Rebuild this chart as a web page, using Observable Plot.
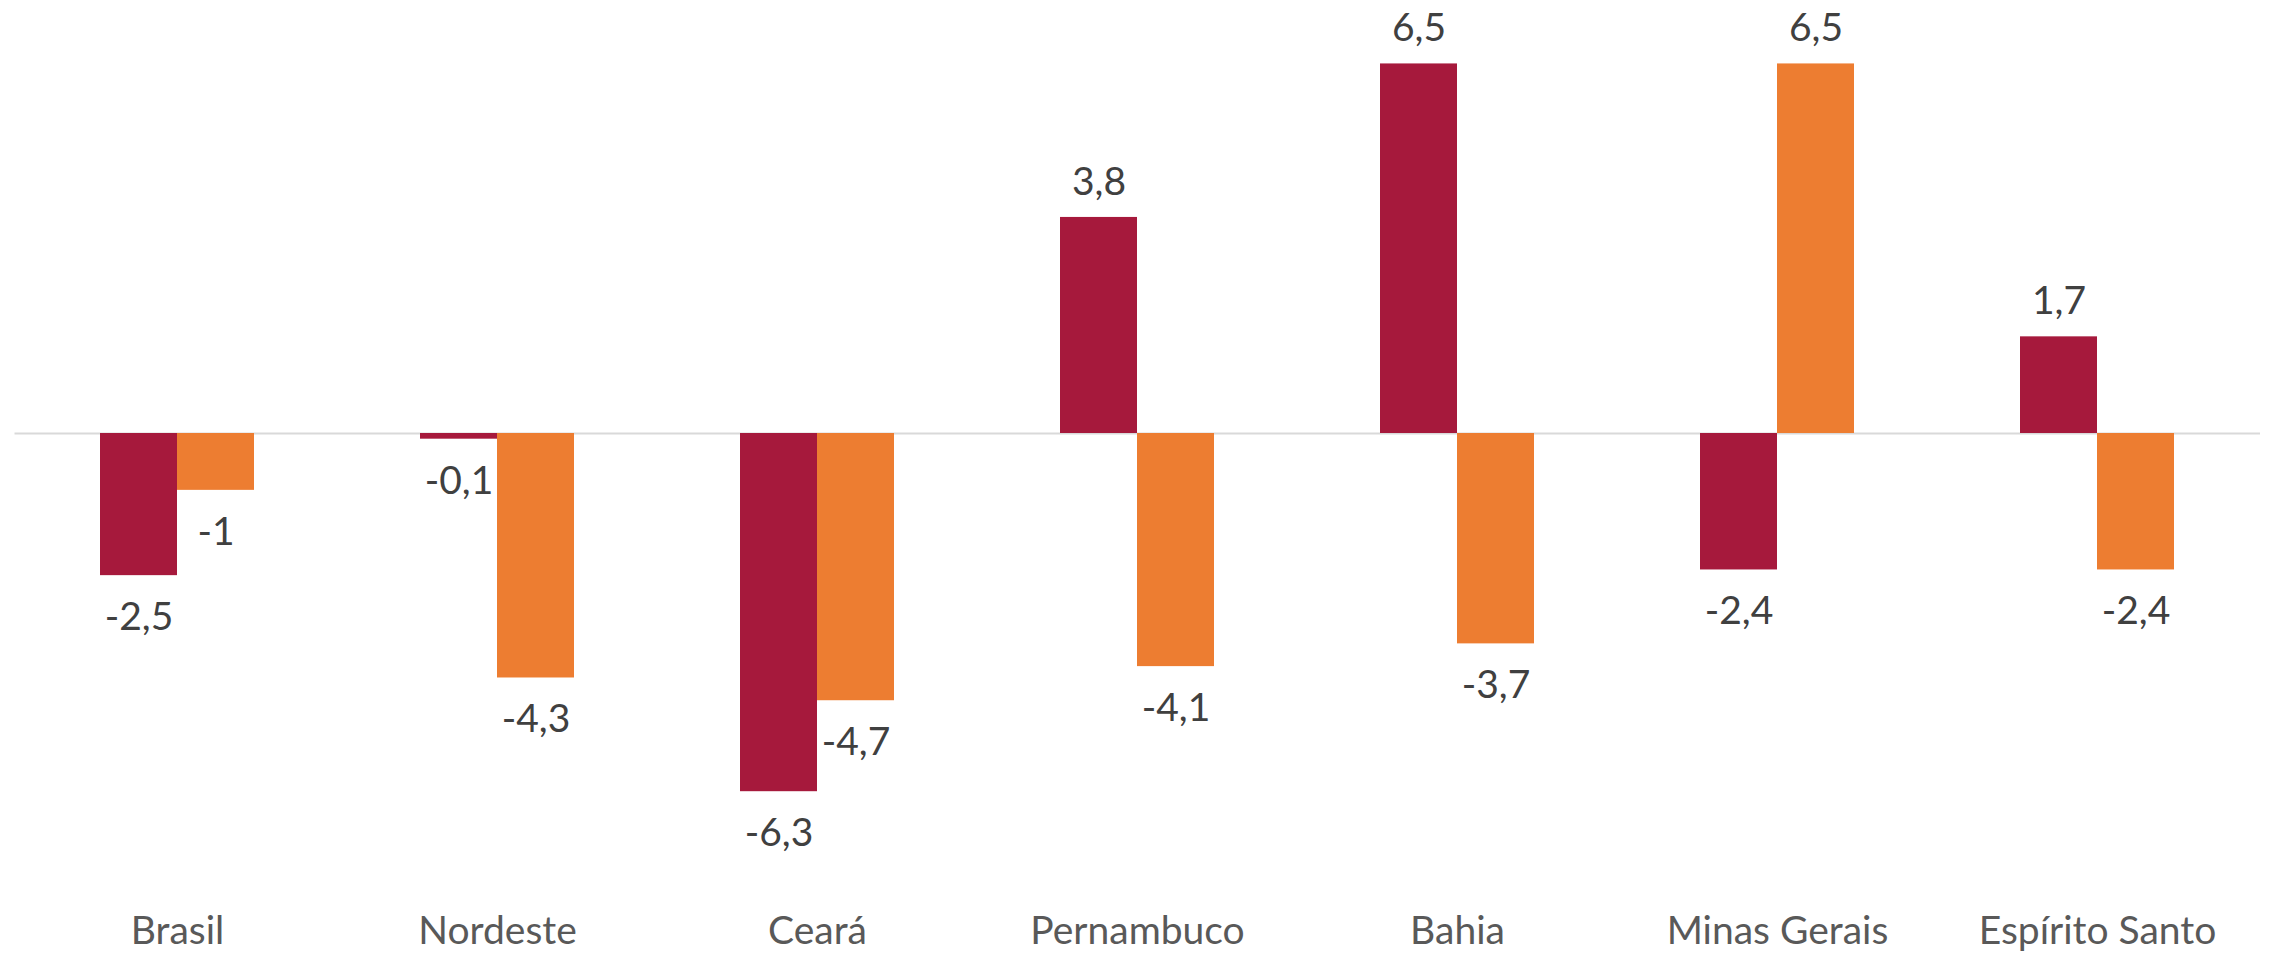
<!DOCTYPE html>
<html>
<head>
<meta charset="utf-8">
<script src="https://cdn.jsdelivr.net/npm/d3@7"></script>
<script src="https://cdn.jsdelivr.net/npm/@observablehq/plot@0.6"></script>
<style>
  html, body { margin: 0; padding: 0; background: #fff; }
  #chart svg { display: block; }
</style>
</head>
<body>
<div id="chart"></div>
<script>
const categories = ["Brasil", "Nordeste", "Ceará", "Pernambuco", "Bahia", "Minas Gerais", "Espírito Santo"];
const serieA = [-2.5, -0.1, -6.3, 3.8, 6.5, -2.4, 1.7];   // vermelho
const serieB = [-1, -4.3, -4.7, -4.1, -3.7, 6.5, -2.4];    // laranja

const rowsA = categories.map((c, i) => ({category: c, value: serieA[i]}));
const rowsB = categories.map((c, i) => ({category: c, value: serieB[i]}));
const fmt = d => String(d.value).replace(".", ",");

const W = 2269, H = 963;
const half = 77;   // inset = half of band width
const font = "Lato, 'Open Sans', sans-serif";

const labelMarks = (rows, side) => {
  const dx = side === "left" ? -half / 2 : half / 2;
  return [
    Plot.text(rows.filter(d => d.value >= 0), {x: "category", y: "value", text: fmt, dx, dy: -35, fill: "#404040", fontSize: 39, fontFamily: font}),
    Plot.text(rows.filter(d => d.value < 0), {x: "category", y: "value", text: fmt, dx, dy: 42, fill: "#404040", fontSize: 39, fontFamily: font})
  ];
};

const chart = Plot.plot({
  width: W,
  height: H,
  marginLeft: 14.5,
  marginRight: 9,
  marginTop: 35,
  marginBottom: 132,
  x: {domain: categories, paddingInner: 0.52, paddingOuter: 0.26, axis: null},
  y: {domain: [-7, 7], axis: null},
  style: {fontFamily: font, background: "#fff"},
  marks: [
    Plot.ruleY([0], {stroke: "#d9d9d9", strokeWidth: 2}),
    Plot.barY(rowsA, {x: "category", y: "value", fill: "#a6193c", insetRight: half}),
    Plot.barY(rowsB, {x: "category", y: "value", fill: "#ed7d31", insetLeft: half}),
    ...labelMarks(rowsA, "left"),
    ...labelMarks(rowsB, "right"),
    Plot.text(categories, {x: d => d, frameAnchor: "bottom", dy: 112, fill: "#595959", fontSize: 39, fontFamily: font})
  ]
});
document.getElementById("chart").appendChild(chart);
</script>
</body>
</html>
